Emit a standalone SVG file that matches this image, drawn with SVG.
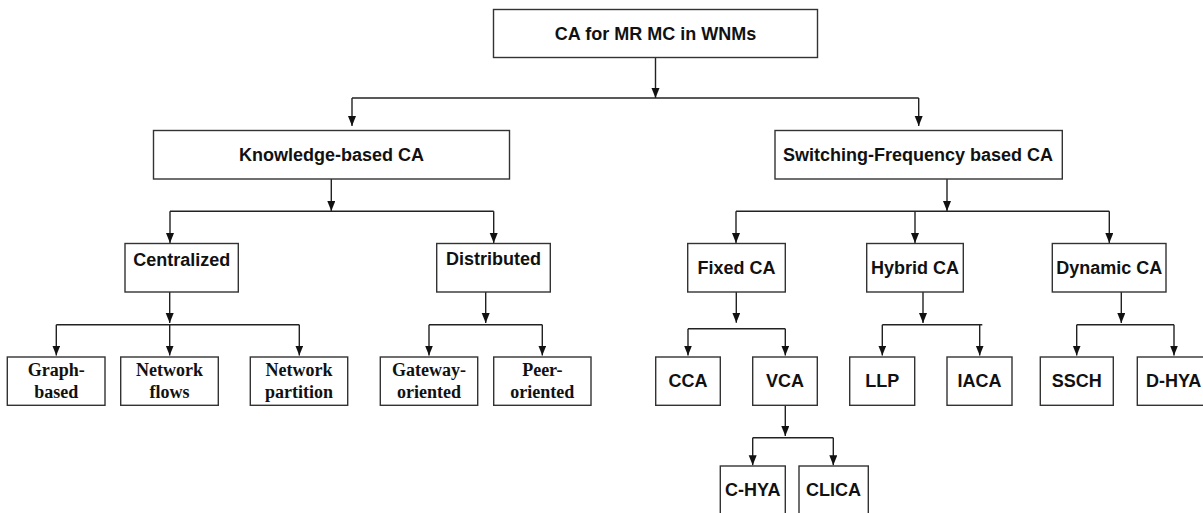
<svg xmlns="http://www.w3.org/2000/svg" width="1203" height="513" viewBox="0 0 1203 513">
<style>
.box{fill:#fff;stroke:#333;stroke-width:1.4}
.c{fill:none;stroke:#222;stroke-width:1.4}
.s{font-family:"Liberation Sans",Arial,sans-serif;font-weight:bold;font-size:18px;fill:#111;text-anchor:middle}
.t{font-family:"Liberation Serif","Times New Roman",serif;font-weight:bold;font-size:18px;fill:#111;text-anchor:middle}
</style>
<defs>
<marker id="ah" markerUnits="userSpaceOnUse" markerWidth="10" markerHeight="11" refX="10" refY="4" orient="auto">
<path d="M0,0 L10,4 L0,8 z" fill="#111"/>
</marker>
</defs>
<rect width="1203" height="513" fill="#fff"/>
<g id="connectors">
<line class="c" x1="655.5" y1="58" x2="655.5" y2="98" marker-end="url(#ah)"/>
<path class="c" d="M352,98 H918.7"/>
<line class="c" x1="352" y1="98" x2="352" y2="126" marker-end="url(#ah)"/>
<line class="c" x1="918.7" y1="98" x2="918.7" y2="126" marker-end="url(#ah)"/>

<line class="c" x1="331.3" y1="179" x2="331.3" y2="211" marker-end="url(#ah)"/>
<path class="c" d="M170,211.3 H493.7"/>
<line class="c" x1="170" y1="211.3" x2="170" y2="243" marker-end="url(#ah)"/>
<line class="c" x1="493.7" y1="211.3" x2="493.7" y2="243" marker-end="url(#ah)"/>

<line class="c" x1="947" y1="179" x2="947" y2="211" marker-end="url(#ah)"/>
<path class="c" d="M736,211.3 H1109.3"/>
<line class="c" x1="736" y1="211.3" x2="736" y2="243" marker-end="url(#ah)"/>
<line class="c" x1="915" y1="211.3" x2="915" y2="243" marker-end="url(#ah)"/>
<line class="c" x1="1109.3" y1="211.3" x2="1109.3" y2="243" marker-end="url(#ah)"/>

<line class="c" x1="169.7" y1="292" x2="169.7" y2="323" marker-end="url(#ah)"/>
<path class="c" d="M56.3,324.7 H299.3"/>
<line class="c" x1="56.3" y1="324.7" x2="56.3" y2="355.5" marker-end="url(#ah)"/>
<line class="c" x1="169.7" y1="324.7" x2="169.7" y2="355.5" marker-end="url(#ah)"/>
<line class="c" x1="299.3" y1="324.7" x2="299.3" y2="355.5" marker-end="url(#ah)"/>

<line class="c" x1="485.7" y1="292" x2="485.7" y2="323" marker-end="url(#ah)"/>
<path class="c" d="M429,324.7 H542.3"/>
<line class="c" x1="429" y1="324.7" x2="429" y2="355.5" marker-end="url(#ah)"/>
<line class="c" x1="542.3" y1="324.7" x2="542.3" y2="355.5" marker-end="url(#ah)"/>

<line class="c" x1="736.3" y1="292" x2="736.3" y2="322.7" marker-end="url(#ah)"/>
<path class="c" d="M688,328.7 H785.3"/>
<line class="c" x1="688" y1="328.7" x2="688" y2="355.5" marker-end="url(#ah)"/>
<line class="c" x1="785.3" y1="328.7" x2="785.3" y2="355.5" marker-end="url(#ah)"/>

<line class="c" x1="923" y1="292" x2="923" y2="323" marker-end="url(#ah)"/>
<path class="c" d="M882.3,324.7 H982.3"/>
<line class="c" x1="882.3" y1="324.7" x2="882.3" y2="355.5" marker-end="url(#ah)"/>
<line class="c" x1="979.7" y1="324.7" x2="979.7" y2="355.5" marker-end="url(#ah)"/>

<line class="c" x1="1121.3" y1="292" x2="1121.3" y2="323" marker-end="url(#ah)"/>
<path class="c" d="M1076.7,324.7 H1174"/>
<line class="c" x1="1076.7" y1="324.7" x2="1076.7" y2="355.5" marker-end="url(#ah)"/>
<line class="c" x1="1174" y1="324.7" x2="1174" y2="355.5" marker-end="url(#ah)"/>

<line class="c" x1="785.3" y1="405.3" x2="785.3" y2="436" marker-end="url(#ah)"/>
<path class="c" d="M752.7,437.7 H833.3"/>
<line class="c" x1="752.7" y1="437.7" x2="752.7" y2="465.3" marker-end="url(#ah)"/>
<line class="c" x1="833.3" y1="437.7" x2="833.3" y2="465.3" marker-end="url(#ah)"/>
</g>

<g id="root"><rect class="box" x="493.5" y="9.5" width="324" height="48"/><text class="s" x="655.5" y="40">CA for MR MC in WNMs</text></g>
<g id="knowledge"><rect class="box" x="153.5" y="130.5" width="356" height="48.5"/><text class="s" x="331.5" y="161">Knowledge-based CA</text></g>
<g id="switching"><rect class="box" x="775" y="130.5" width="287.3" height="48.5"/><text class="s" x="918" y="161">Switching-Frequency based CA</text></g>

<g id="centralized"><rect class="box" x="125" y="243.5" width="113.3" height="48.5"/><text class="s" x="181.7" y="265.5">Centralized</text></g>
<g id="distributed"><rect class="box" x="436.7" y="243.5" width="113.6" height="48.5"/><text class="s" x="493.5" y="265.3">Distributed</text></g>
<g id="fixed"><rect class="box" x="687.7" y="243.5" width="97.6" height="48.5"/><text class="s" x="736.5" y="274.3">Fixed CA</text></g>
<g id="hybrid"><rect class="box" x="866.7" y="243.5" width="96.6" height="48.5"/><text class="s" x="915" y="274.3">Hybrid CA</text></g>
<g id="dynamic"><rect class="box" x="1052.3" y="243.5" width="113.7" height="48.5"/><text class="s" x="1109.2" y="274.3">Dynamic CA</text></g>

<g id="graph"><rect class="box" x="7.3" y="357" width="97.7" height="48.3"/><text class="t" x="56.2" y="376">Graph-</text><text class="t" x="56.2" y="397.7">based</text></g>
<g id="netflows"><rect class="box" x="120.7" y="357" width="97.6" height="48.3"/><text class="t" x="169.5" y="376">Network</text><text class="t" x="169.5" y="397.7">flows</text></g>
<g id="netpart"><rect class="box" x="250.3" y="357" width="97.4" height="48.3"/><text class="t" x="299" y="376">Network</text><text class="t" x="299" y="397.7">partition</text></g>
<g id="gateway"><rect class="box" x="380.3" y="357" width="97.4" height="48.3"/><text class="t" x="429" y="376">Gateway-</text><text class="t" x="429" y="397.7">oriented</text></g>
<g id="peer"><rect class="box" x="493.7" y="357" width="97.3" height="48.3"/><text class="t" x="542.3" y="376">Peer-</text><text class="t" x="542.3" y="397.7">oriented</text></g>

<g id="cca"><rect class="box" x="655.7" y="357" width="64.6" height="48.3"/><text class="s" x="688" y="387">CCA</text></g>
<g id="vca"><rect class="box" x="752.7" y="357" width="64.6" height="48.3"/><text class="s" x="785" y="387">VCA</text></g>
<g id="llp"><rect class="box" x="849.7" y="357" width="65" height="48.3"/><text class="s" x="882.2" y="387">LLP</text></g>
<g id="iaca"><rect class="box" x="947" y="357" width="65" height="48.3"/><text class="s" x="979.5" y="387">IACA</text></g>
<g id="ssch"><rect class="box" x="1040.3" y="357" width="73" height="48.3"/><text class="s" x="1076.8" y="387">SSCH</text></g>
<g id="dhya"><rect class="box" x="1137.3" y="357" width="75" height="48.3"/><text class="s" x="1173.7" y="387">D-HYA</text></g>

<g id="chya"><rect class="box" x="720.3" y="466" width="65" height="60"/><text class="s" x="752.8" y="496">C-HYA</text></g>
<g id="clica"><rect class="box" x="799" y="466" width="69.3" height="60"/><text class="s" x="833.5" y="496">CLICA</text></g>
</svg>
